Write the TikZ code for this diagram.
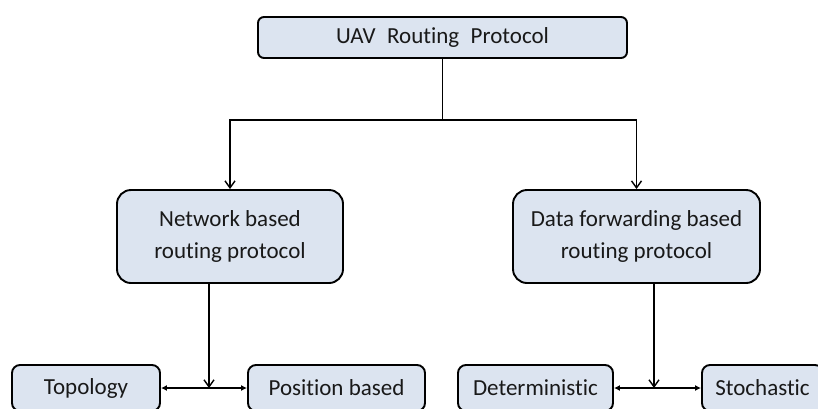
\documentclass[tikz,border=0pt]{standalone}
\usepackage{fontspec}
\setmainfont{Carlito}[Ligatures=NoCommon]
\usetikzlibrary{arrows.meta}
\definecolor{boxfill}{RGB}{220,228,240}
\definecolor{txt}{RGB}{25,25,25}
\begin{document}
\begin{tikzpicture}[x=1pt,y=-1pt,
  box/.style={draw=black, fill=boxfill, line width=1.9pt, align=center, text=txt,
    inner sep=0pt, font=\fontsize{23}{32}\selectfont},
  conn/.style={line width=1.4pt, -{Straight Barb[length=7pt,width=10pt]}},
  dbl/.style={line width=1.4pt, {Latex[length=6pt,width=6pt]}-{Latex[length=6pt,width=6pt]}}]
\useasboundingbox (0,0) rectangle (818,408);
\clip (0,0) rectangle (818,408);
\node[box, rounded corners=6pt, minimum width=369pt, minimum height=41pt] (top) at (442.5,37.5) {UAV\hspace{0.5em}Routing\hspace{0.5em}Protocol};
\node[box, rounded corners=14pt, minimum width=226pt, minimum height=93pt] (net) at (230,236.5) {Network based\\routing protocol};
\node[box, rounded corners=14pt, minimum width=247pt, minimum height=93pt] (data) at (636.5,236.5) {Data forwarding based\\routing protocol};
\node[box, rounded corners=8pt, minimum width=148pt, minimum height=46pt] (topo) at (86,388) {Topology};
\node[box, rounded corners=8pt, minimum width=177pt, minimum height=46pt] (pos) at (336.5,388) {Position based};
\node[box, rounded corners=8pt, minimum width=155pt, minimum height=46pt] (det) at (535.5,388) {Deterministic};
\node[box, rounded corners=8pt, minimum width=121pt, minimum height=46pt] (sto) at (762.5,388) {Stochastic};
\coordinate (split) at (442.5,120);
\coordinate (j1) at (209,388);
\coordinate (j2) at (654,388);
\draw[line width=1.4pt] (top.south) -- (split);
\draw[conn] (split) -| (net.north);
\draw[conn] (split) -| (data.north);
\draw[dbl] (topo.east) -- (pos.west);
\draw[dbl] (det.east) -- (sto.west);
\draw[conn] (net.south -| j1) -- (j1);
\draw[conn] (data.south -| j2) -- (j2);
\end{tikzpicture}
\end{document}
